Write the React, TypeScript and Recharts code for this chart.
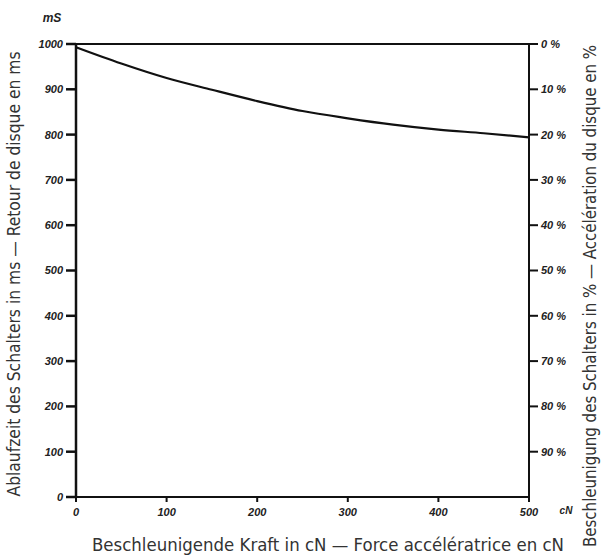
import React from "react";
import {
  LineChart,
  Line,
  XAxis,
  YAxis,
  ReferenceLine,
  Label,
} from "recharts";

// Beschleunigende Kraft (cN) vs. Ablaufzeit (ms)
const force = [0, 50, 100, 150, 200, 250, 300, 350, 400, 450, 500];
const time = [993, 957, 925, 899, 874, 852, 836, 822, 811, 803, 794];

const xTicks = [0, 100, 200, 300, 400, 500];
const msTicks = [0, 100, 200, 300, 400, 500, 600, 700, 800, 900, 1000];
const pctTicks = [0, 10, 20, 30, 40, 50, 60, 70, 80, 90];

// Beschleunigung in % relative to 1000 ms
const data = force.map((f, i) => ({
  force: f,
  time: time[i],
  pct: (1000 - time[i]) / 10,
}));

const tickFont = {
  fontSize: 11,
  fontStyle: "italic",
  fontWeight: 700,
  fill: "#222",
  fontFamily: "'Liberation Sans', sans-serif",
};

const titleFont = {
  fontSize: 17,
  fill: "#333",
  fontFamily: "'DejaVu Sans', sans-serif",
  fontStretch: "condensed",
  lengthAdjust: "spacingAndGlyphs",
};

export default function App() {
  return (
    <div style={{ position: "absolute", left: 0, top: 0, background: "#fff" }}>
      <LineChart
        width={611}
        height={558}
        data={data}
        margin={{ top: 44, right: 0, bottom: 0, left: 0 }}
      >
        <XAxis
          dataKey="force"
          type="number"
          domain={[0, 500]}
          ticks={xTicks}
          height={61}
          stroke="#111"
          strokeWidth={2}
          tickSize={5}
          tick={tickFont}
          tickMargin={6}
        >
          <Label
            content={() => (
              <g>
                <text x={328} y={551} textAnchor="middle" textLength={472} {...titleFont}>
                  Beschleunigende Kraft in cN  —  Force accélératrice en cN
                </text>
                <text x={566} y={514} textAnchor="middle" {...tickFont} fontSize={10}>
                  cN
                </text>
                <text x={52} y={22} textAnchor="middle" {...tickFont} fontSize={12}>
                  mS
                </text>
              </g>
            )}
          />
        </XAxis>
        <YAxis
          yAxisId="ms"
          orientation="left"
          type="number"
          domain={[0, 1000]}
          ticks={msTicks}
          width={76}
          stroke="#111"
          strokeWidth={2.5}
          tickSize={10}
          tickMargin={3}
          tick={tickFont}
        >
          <Label
            content={() => (
              <text
                x={20}
                y={274}
                textAnchor="middle"
                transform="rotate(-90 20 274)"
                textLength={445}
                {...titleFont}
              >
                Ablaufzeit des Schalters in ms  —  Retour de disque en ms
              </text>
            )}
          />
        </YAxis>
        <YAxis
          yAxisId="pct"
          orientation="right"
          type="number"
          domain={[0, 100]}
          reversed
          ticks={pctTicks}
          width={82}
          stroke="#111"
          strokeWidth={2}
          tickSize={9}
          tickMargin={3}
          tick={tickFont}
          tickFormatter={(v: number) => `${v} %`}
        >
          <Label
            content={() => (
              <text
                x={596}
                y={296}
                textAnchor="middle"
                transform="rotate(-90 596 296)"
                textLength={502}
                {...titleFont}
              >
                Beschleunigung des Schalters in %  —  Accélération du disque en %
              </text>
            )}
          />
        </YAxis>
        <ReferenceLine yAxisId="ms" y={1000} stroke="#111" strokeWidth={2} />
        <Line
          yAxisId="pct"
          type="monotone"
          dataKey="pct"
          stroke="none"
          dot={false}
          isAnimationActive={false}
        />
        <Line
          yAxisId="ms"
          type="monotone"
          dataKey="time"
          stroke="#111"
          strokeWidth={2.2}
          dot={false}
          isAnimationActive={false}
        />
      </LineChart>
    </div>
  );
}
